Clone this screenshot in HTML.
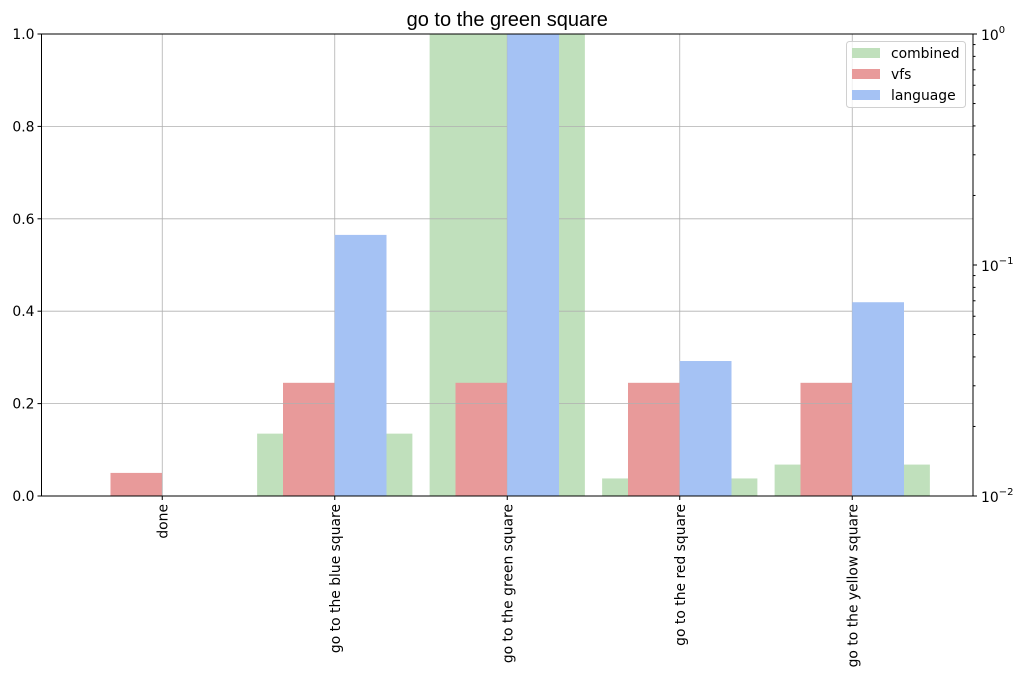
<!DOCTYPE html>
<html><head><meta charset="utf-8"><style>
body{margin:0;background:#fff}
svg{display:block;font-family:"DejaVu Sans","Liberation Sans",sans-serif}
</style></head><body>
<svg id="chart" width="1024" height="679" xmlns="http://www.w3.org/2000/svg"></svg>
<script>
const categories=["done","go to the blue square","go to the green square","go to the red square","go to the yellow square"];
const combined=[0,0.135,1.0,0.038,0.068];
const vfs=[0.05,0.245,0.245,0.245,0.245];
const language=[0,0.135,1.0,0.0384,0.069];
const leftTicks=[0,0.2,0.4,0.6,0.8,1.0];
const leftTickLabels=["0.0","0.2","0.4","0.6","0.8","1.0"];
const rightTicks=[-2,-1,0];

const svg=document.getElementById('chart');
const NS='http://www.w3.org/2000/svg';
const L=41.5,R=973,T=34,B=496;
const xmin=-0.7,xmax=4.7;
const FS=13.9;
const x=v=>L+(v-xmin)/(xmax-xmin)*(R-L);
const y=v=>B-v*(B-T);
const ylog=v=>B-((Math.log10(Math.max(v,1e-6))+2)/2)*(B-T);
function el(tag,attrs,parent){const e=document.createElementNS(NS,tag);for(const k in attrs)e.setAttribute(k,attrs[k]);(parent||svg).appendChild(e);return e;}
const unit=x(1)-x(0);

const gC=el('g',{});
combined.forEach((v,i)=>{const r=el('rect',{x:x(i-0.45),y:y(v),width:unit*0.9,height:B-y(v),fill:'#c0e0bc'},gC);

});
const gV=el('g',{});
vfs.forEach((v,i)=>{const r=el('rect',{x:x(i-0.3),y:y(v),width:unit*0.3,height:B-y(v),fill:'#e89a9a'},gV);

});

const gG=el('g',{stroke:'#b0b0b0','stroke-width':0.8});
leftTicks.forEach(t=>el('line',{x1:L,x2:R,y1:y(t),y2:y(t)},gG));
categories.forEach((c,i)=>el('line',{x1:x(i),x2:x(i),y1:T,y2:B},gG));

const gL=el('g',{});
language.forEach((v,i)=>{if(v<=0.01)return;const r=el('rect',{x:x(i),y:ylog(v),width:unit*0.3,height:B-ylog(v),fill:'#a5c2f4'},gL);

});

const fr=el('rect',{x:L,y:T,width:R-L,height:B-T,fill:'none',stroke:'#000','stroke-width':1});


const gY=el('g',{'font-size':FS});
leftTicks.forEach((t,i)=>{el('line',{x1:L-4,x2:L,y1:y(t),y2:y(t),stroke:'#000'},gY);
const tx=el('text',{x:L-7,y:y(t)+5,'text-anchor':'end'},gY);tx.textContent=leftTickLabels[i];});

const gR=el('g',{'font-size':FS});
rightTicks.forEach(e=>{const yy=ylog(Math.pow(10,e));el('line',{x1:R,x2:R+4,y1:yy,y2:yy,stroke:'#000'},gR);
const tx=el('text',{x:R+8,y:yy+6},gR);tx.textContent='10';const s=el('tspan',{dy:-7,'font-size':10},tx);s.textContent=String(e).replace('-','\u2212');});
for(let e=-2;e<0;e++)for(let m=2;m<10;m++){const yy=ylog(m*Math.pow(10,e));el('line',{x1:R,x2:R+2.5,y1:yy,y2:yy,stroke:'#000'},gR);}

const gX=el('g',{'font-size':FS});
categories.forEach((c,i)=>{el('line',{x1:x(i),x2:x(i),y1:B,y2:B+4,stroke:'#000'},gX);
const tx=el('text',{transform:`translate(${x(i)+5},${B+8}) rotate(-90)`,'text-anchor':'end'},gX);tx.textContent=c;

});

const ti=el('text',{x:(L+R)/2,y:26,'text-anchor':'middle','font-size':20,'font-family':'Liberation Sans, sans-serif'});
ti.textContent='go to the green square';

const lg=el('g',{'font-size':FS});
el('rect',{x:846.5,y:41.5,width:119,height:66,rx:3,fill:'#fff','fill-opacity':0.8,stroke:'#d0d0d0'},lg);
[['combined','#c0e0bc'],['vfs','#e89a9a'],['language','#a5c2f4']].forEach((d,i)=>{
const g=el('g',{},lg);
el('rect',{x:852,y:48+i*21,width:28,height:10,fill:d[1]},g);
const t=el('text',{x:891,y:58+i*21},g);t.textContent=d[0];});
</script>
</body></html>
